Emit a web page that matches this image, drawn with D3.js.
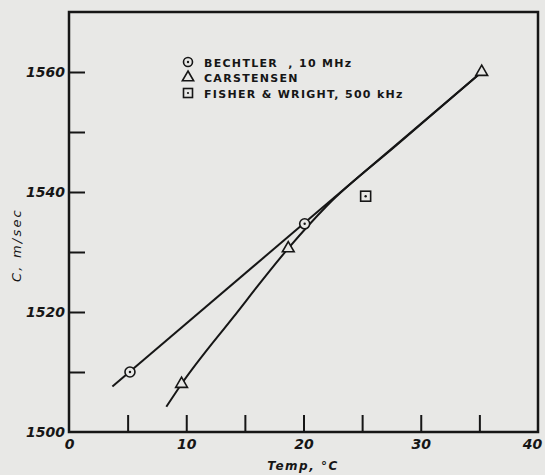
<!DOCTYPE html>
<html>
<head>
<meta charset="utf-8">
<script src="https://cdn.jsdelivr.net/npm/d3@7"></script>
<style>
  body { margin: 0; background: #e8e8e6; }
  svg { display: block; }
</style>
</head>
<body>
<svg id="drawing_region"></svg>
<script>
// values
const bechtler = [{x: 5.2, y: 1510}, {x: 20.1, y: 1534.7}, {x: 35.2, y: 1560}]
const carstensen = [{x: 9.6, y: 1508}, {x: 18.7, y: 1530.6}, {x: 35.2, y: 1560}]
const fisher = [{x: 25.3, y: 1539.3}]
const bechtlerLine = [{x: 3.7, y: 1507.6}, {x: 35.2, y: 1560}]
const carstensenLine = [{x: 8.3, y: 1504.2}, {x: 9.6, y: 1508}, {x: 14, y: 1519.1}, {x: 18.7, y: 1530.6}, {x: 22, y: 1537.7}, {x: 28, y: 1547.9}, {x: 35.2, y: 1560}]
const xTicks = [0, 5, 10, 15, 20, 25, 30, 35, 40]
const yTicks = [1500, 1510, 1520, 1530, 1540, 1550, 1560]
const legendLabels = ['BECHTLER  , 10 MHz', 'CARSTENSEN', 'FISHER & WRIGHT, 500 kHz']

class SpeedPlot{
    constructor(config){
        this.config = config
        this.init()
    }

    init(){
        let self = this
        self.svg = d3.select(self.config.parent)
            .attr('width', self.config.width)
            .attr('height', self.config.height)
        self.chart = self.svg.append('g')
            .attr('transform', `translate(${self.config.margin.left},${self.config.margin.top})`)
        self.inner_width = self.config.width - self.config.margin.left - self.config.margin.right
        self.inner_height = self.config.height - self.config.margin.top - self.config.margin.bottom
        self.xscale = d3.scaleLinear().domain([0, 40]).range([0, self.inner_width])
        self.yscale = d3.scaleLinear().domain([1500, 1570]).range([self.inner_height, 0])
    }

    render(){
        let self = this
        const ink = '#161616'
        const bg = '#e8e8e6'
        const tickFont = 'bold italic 14px "DejaVu Sans", sans-serif'

        // x axis, ticks pointing inward
        const xaxis = d3.axisBottom(self.xscale)
            .tickValues(xTicks)
            .tickSize(-17)
            .tickPadding(7)
            .tickFormat(d => d % 10 === 0 ? d : '')
        const xg = self.chart.append('g')
            .attr('transform', `translate(0,${self.inner_height})`)
            .call(xaxis)
        xg.select('.domain').remove()
        xg.selectAll('.tick line').attr('stroke', ink).attr('stroke-width', 2)
            .filter(d => d === 0 || d === 40).remove()
        xg.selectAll('.tick text').attr('fill', ink).style('font', tickFont)
            .filter(d => d === 40).attr('dx', -6)

        const yaxis = d3.axisLeft(self.yscale)
            .tickValues(yTicks)
            .tickSize(-16)
            .tickPadding(4)
            .tickFormat(d => d % 20 === 0 ? d : '')
        const yg = self.chart.append('g').call(yaxis)
        yg.select('.domain').remove()
        yg.selectAll('.tick line').attr('stroke', ink).attr('stroke-width', 2)
            .filter(d => d === 1500).remove()
        yg.selectAll('.tick text').attr('fill', ink).style('font', tickFont)

        // frame
        self.chart.append('rect')
            .attr('width', self.inner_width)
            .attr('height', self.inner_height)
            .attr('fill', 'none')
            .attr('stroke', ink)
            .attr('stroke-width', 2.5)

        // lines
        const line = d3.line().x(d => self.xscale(d.x)).y(d => self.yscale(d.y))
        self.chart.append('path').datum(bechtlerLine)
            .attr('d', line)
            .attr('fill', 'none').attr('stroke', ink).attr('stroke-width', 2)
        self.chart.append('path').datum(carstensenLine)
            .attr('d', line.curve(d3.curveMonotoneX))
            .attr('fill', 'none').attr('stroke', ink).attr('stroke-width', 2)

        // markers
        self.chart.selectAll('.circ').data(bechtler.slice(0, 2)).enter()
            .append('circle')
            .attr('cx', d => self.xscale(d.x)).attr('cy', d => self.yscale(d.y))
            .attr('r', 5).attr('fill', bg).attr('stroke', ink).attr('stroke-width', 1.6)
        self.chart.selectAll('.circdot').data(bechtler.slice(0, 2)).enter()
            .append('circle')
            .attr('cx', d => self.xscale(d.x)).attr('cy', d => self.yscale(d.y))
            .attr('r', 1.2).attr('fill', ink)

        const tri = d3.symbol().type(d3.symbolTriangle).size(60)
        self.chart.selectAll('.tri').data(carstensen).enter()
            .append('path')
            .attr('d', tri)
            .attr('transform', d => `translate(${self.xscale(d.x)},${self.yscale(d.y)})`)
            .attr('fill', bg).attr('stroke', ink).attr('stroke-width', 1.6)

        self.chart.selectAll('.sq').data(fisher).enter()
            .append('rect')
            .attr('x', d => self.xscale(d.x) - 5).attr('y', d => self.yscale(d.y) - 5)
            .attr('width', 10).attr('height', 10)
            .attr('fill', 'none').attr('stroke', ink).attr('stroke-width', 1.6)
        self.chart.selectAll('.sqdot').data(fisher).enter()
            .append('circle')
            .attr('cx', d => self.xscale(d.x)).attr('cy', d => self.yscale(d.y))
            .attr('r', 1.2).attr('fill', ink)

        // legend
        const lg = self.chart.append('g').attr('transform', 'translate(119,50)')
        const row = 15.5
        lg.append('circle').attr('cx', 0).attr('cy', 0).attr('r', 4.5)
            .attr('fill', 'none').attr('stroke', ink).attr('stroke-width', 1.6)
        lg.append('circle').attr('cx', 0).attr('cy', 0).attr('r', 1.2).attr('fill', ink)
        lg.append('path').attr('d', d3.symbol().type(d3.symbolTriangle).size(55))
            .attr('transform', `translate(0,${row})`)
            .attr('fill', 'none').attr('stroke', ink).attr('stroke-width', 1.6)
        lg.append('rect').attr('x', -4.5).attr('y', row * 2 - 4.5).attr('width', 9).attr('height', 9)
            .attr('fill', 'none').attr('stroke', ink).attr('stroke-width', 1.6)
        lg.append('circle').attr('cx', 0).attr('cy', row * 2).attr('r', 1.1).attr('fill', ink)
        lg.selectAll('text').data(legendLabels).enter()
            .append('text')
            .attr('x', 16)
            .attr('y', (d, i) => i * row + 4.5)
            .attr('fill', ink)
            .attr('font-family', '"DejaVu Sans", sans-serif')
            .attr('font-weight', 'bold')
            .attr('font-size', 11)
            .attr('letter-spacing', 1.3)
            .style('white-space', 'pre')
            .text(d => d)

        // axis titles
        self.svg.append('text')
            .attr('x', 303).attr('y', 470)
            .attr('text-anchor', 'middle')
            .attr('fill', ink)
            .style('font', 'bold italic 12px "DejaVu Sans", sans-serif')
            .attr('letter-spacing', 1.5)
            .text('Temp, °C')

        self.svg.append('text')
            .attr('transform', 'translate(21,245) rotate(-90)')
            .attr('text-anchor', 'middle')
            .attr('fill', ink)
            .style('font', 'italic 13px "DejaVu Sans", sans-serif')
            .attr('letter-spacing', 2.2)
            .text('C, m/sec')
    }
}

const config = {
    parent: '#drawing_region',
    width: 545,
    height: 475,
    margin: {top: 12, right: 7, bottom: 43, left: 69}
}
const plot = new SpeedPlot(config)
plot.render()
</script>
</body>
</html>
